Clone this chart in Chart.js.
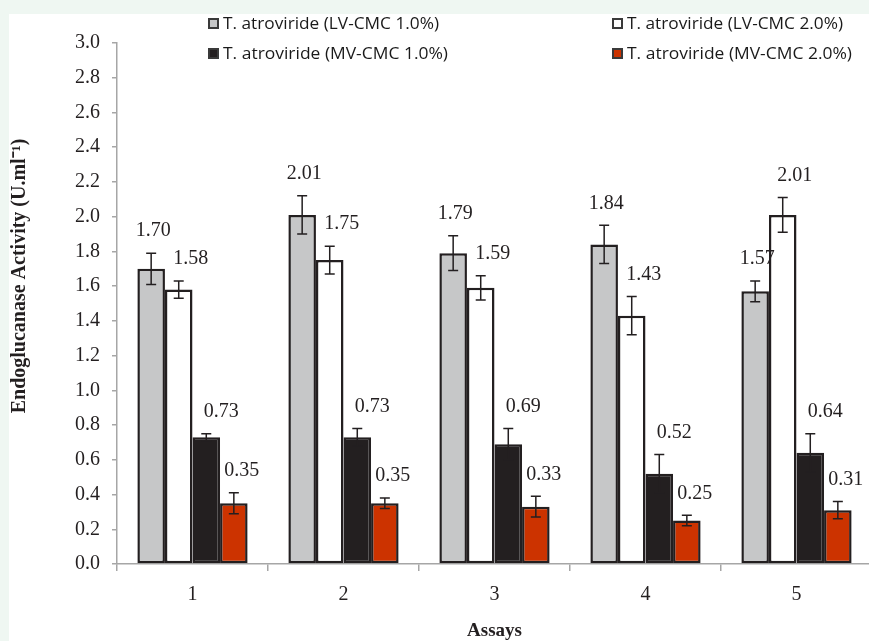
<!DOCTYPE html>
<html>
<head>
<meta charset="utf-8">
<title>Endoglucanase Activity</title>
<script src="https://cdn.jsdelivr.net/npm/chart.js@4.4.1/dist/chart.umd.min.js"></script>
<style>
    html, body { margin: 0; padding: 0; overflow: hidden; background: #eff7f2; }
    #wrap { position: absolute; left: 0; top: 0; width: 872px; height: 641px; }
</style>
</head>
<body>
<div id="wrap"><canvas id="myChart" width="872" height="641"></canvas></div>
<script>
// data
const assays = ['1', '2', '3', '4', '5']
const seriesNames = [
    'T. atroviride (LV-CMC 1.0%)',
    'T. atroviride (LV-CMC 2.0%)',
    'T. atroviride (MV-CMC 1.0%)',
    'T. atroviride (MV-CMC 2.0%)'
]
const lv10 = [1.70, 2.01, 1.79, 1.84, 1.57]
const lv20 = [1.58, 1.75, 1.59, 1.43, 2.01]
const mv10 = [0.73, 0.73, 0.69, 0.52, 0.64]
const mv20 = [0.35, 0.35, 0.33, 0.25, 0.31]
// standard deviations (error bars)
const lv10Err = [0.09, 0.11, 0.10, 0.11, 0.06]
const lv20Err = [0.05, 0.08, 0.07, 0.11, 0.10]
const mv10Err = [0.02, 0.05, 0.09, 0.11, 0.11]
const mv20Err = [0.06, 0.03, 0.06, 0.03, 0.05]

const ink = '#231f20'
const axisGray = '#a6a6a6'
const serif = "'Liberation Serif', 'Times New Roman', serif"
const fills = ['#c6c7c8', '#ffffff', '#231f20', '#cc3300']
const values = [lv10, lv20, mv10, mv20]
const errors = [lv10Err, lv20Err, mv10Err, mv20Err]
// label nudge to the right of bar centre, per series
const labelShift = [2, 12, 15, 8]

const datasets = values.map((v, i) => ({
    label: seriesNames[i],
    data: v,
    errors: errors[i],
    backgroundColor: fills[i],
    borderColor: ink,
    borderWidth: 2.5,
    borderSkipped: false,
    categoryPercentage: 0.73,
    barPercentage: 1.0
}))

// page background + white panel
const panelPlugin = {
    id: 'panel',
    beforeDraw(chart) {
        const ctx = chart.ctx
        ctx.save()
        ctx.fillStyle = '#eff7f2'
        ctx.fillRect(0, 0, chart.width, chart.height)
        ctx.fillStyle = '#ffffff'
        ctx.fillRect(9, 14, chart.width - 9, chart.height - 14)
        ctx.restore()
    }
}

// error bars and value labels
const errorBarPlugin = {
    id: 'errorBars',
    afterDatasetsDraw(chart) {
        const ctx = chart.ctx
        const y = chart.scales.y
        ctx.save()
        chart.data.datasets.forEach((ds, i) => {
            const meta = chart.getDatasetMeta(i)
            meta.data.forEach((bar, j) => {
                const v = ds.data[j]
                const e = ds.errors[j]
                const top = y.getPixelForValue(v + e)
                const bot = y.getPixelForValue(v - e)
                ctx.strokeStyle = ink
                ctx.lineWidth = 1.5
                ctx.beginPath()
                ctx.moveTo(bar.x, top)
                ctx.lineTo(bar.x, bot)
                ctx.moveTo(bar.x - 5, top)
                ctx.lineTo(bar.x + 5, top)
                ctx.moveTo(bar.x - 5, bot)
                ctx.lineTo(bar.x + 5, bot)
                ctx.stroke()

                ctx.fillStyle = ink
                ctx.font = '20px ' + serif
                ctx.textAlign = 'center'
                ctx.textBaseline = 'middle'
                ctx.fillText(v.toFixed(2), bar.x + labelShift[i], top - 22)
            })
        })
        ctx.restore()
    }
}

// y axis title (centred like the original, a bit above the plot middle)
const yTitlePlugin = {
    id: 'yTitle',
    afterDraw(chart) {
        const ctx = chart.ctx
        ctx.save()
        ctx.translate(20, 276)
        ctx.rotate(-Math.PI / 2)
        ctx.fillStyle = ink
        ctx.font = 'bold 20px ' + serif
        ctx.textAlign = 'center'
        ctx.textBaseline = 'middle'
        ctx.fillText('Endoglucanase Activity (U.ml\u207B\u00B9)', 0, 0)
        ctx.restore()
    }
}

// legend in two columns, drawn on the canvas
const legendPlugin = {
    id: 'twoColLegend',
    afterDraw(chart) {
        const ctx = chart.ctx
        const cols = [208, 612]
        const rows = [23, 53]
        const widths = [216, 216, 225, 225]
        ctx.save()
        chart.data.datasets.forEach((ds, i) => {
            const x = cols[i % 2]
            const yy = rows[Math.floor(i / 2)]
            ctx.fillStyle = ds.backgroundColor
            ctx.fillRect(x, yy - 5, 11, 11)
            ctx.strokeStyle = '#3a3a3a'
            ctx.lineWidth = 2
            ctx.strokeRect(x + 1, yy - 4, 9, 9)

            ctx.font = '17px "Open Sans", sans-serif'
            const w = ctx.measureText(ds.label).width
            ctx.save()
            ctx.translate(x + 15, yy + 1)
            ctx.scale(widths[i] / w, 1)
            ctx.fillStyle = '#1a1a1a'
            ctx.textAlign = 'left'
            ctx.textBaseline = 'middle'
            ctx.fillText(ds.label, 0, 0)
            ctx.restore()
        })
        ctx.restore()
    }
}

const config = {
    type: 'bar',
    data: {
        labels: assays,
        datasets: datasets
    },
    options: {
        responsive: false,
        animation: false,
        layout: {
            padding: { top: 43, left: 0, right: 0, bottom: 0 }
        },
        plugins: {
            legend: { display: false },
            tooltip: { enabled: false }
        },
        scales: {
            x: {
                grid: {
                    offset: true,
                    drawOnChartArea: false,
                    tickLength: 7,
                    color: axisGray,
                    lineWidth: 1.5
                },
                border: { color: axisGray, width: 1.5 },
                ticks: {
                    color: ink,
                    padding: 12,
                    font: { family: serif, size: 20 }
                },
                title: {
                    display: true,
                    text: 'Assays',
                    color: ink,
                    padding: { top: 0, bottom: -1 },
                    font: { family: serif, size: 19, weight: 'bold' }
                },
                afterFit(scale) { scale.height = 77 }
            },
            y: {
                min: 0,
                max: 3,
                grid: {
                    drawOnChartArea: false,
                    tickLength: 5,
                    color: axisGray,
                    lineWidth: 1.5
                },
                border: { color: axisGray, width: 1.5 },
                ticks: {
                    stepSize: 0.2,
                    color: ink,
                    padding: 12,
                    font: { family: serif, size: 20 },
                    callback: value => value.toFixed(1)
                },
                afterFit(scale) { scale.width = 117 }
            }
        }
    },
    plugins: [panelPlugin, errorBarPlugin, yTitlePlugin, legendPlugin]
}

let myChart = new Chart(document.getElementById('myChart'), config)
</script>
</body>
</html>
